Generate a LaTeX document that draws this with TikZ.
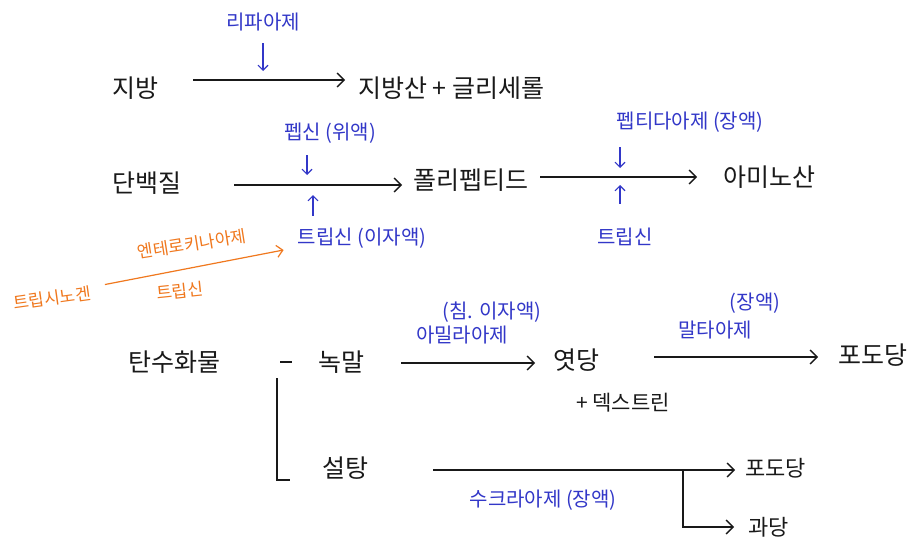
\documentclass[tikz,border=0pt]{standalone}
\usepackage{fontspec}
\setmainfont{Noto Sans CJK KR}
\usetikzlibrary{arrows.meta,calc}
\definecolor{ink}{RGB}{25,25,25}
\definecolor{pen}{RGB}{50,55,200}
\definecolor{org}{RGB}{240,120,30}
\begin{document}
\begin{tikzpicture}[x=1pt,y=-1pt,
  blk/.style={font=\fontsize{25}{28}\selectfont,text=ink,inner sep=0pt,anchor=west},
  sblk/.style={font=\fontsize{21}{24}\selectfont,text=ink,inner sep=0pt},
  bl/.style={font=\fontsize{20}{24}\selectfont,text=pen,inner sep=0pt},
  orn/.style={font=\fontsize{17}{20}\selectfont,text=org,inner sep=0pt},
  arr/.style={draw=ink,line width=1.3pt,-{Straight Barb[length=7pt,width=14pt]}},
  sarr/.style={draw=pen,line width=1.1pt,-{Straight Barb[length=5pt,width=10pt]}},
  oarr/.style={draw=org,line width=1.2pt,-{Straight Barb[length=6pt,width=12pt]}},
  line/.style={draw=ink,line width=1.3pt}]
\useasboundingbox (0,0) rectangle (914,549);
\fill[white] (0,0) rectangle (914,549);

% ---- fat ----
\node[blk] (fat) at (112,88) {지방};
\node[blk] (fa) at (358,88) {지방산 + 글리세롤};
\node[bl] (lip) at (263,22) {리파아제};
\coordinate (m1) at (263,80);
\draw[arr] ($(fat.east)+(35,-8)$) -- ($(fa.west)+(-13,-8)$);
\draw[sarr,shorten <=12pt,shorten >=9pt] (lip.south -| m1) -- (m1);

% ---- protein ----
\node[blk] (prot) at (112,183) {단백질};
\node[blk] (poly) at (413,180) {폴리펩티드};
\node[blk] (amino) at (723,177) {아미노산};
\node[bl] (pep) at (330,133) {펩신 (위액)};
\node[bl] (tr1) at (362,238) {트립신 (이자액)};
\node[bl] (pept) at (690,122) {펩티다아제 (장액)};
\node[bl] (tr2) at (625,237) {트립신};
\coordinate (m2a) at (307,185);
\coordinate (m2b) at (313,185);
\coordinate (m3) at (620,177);
\draw[arr] ($(prot.east)+(53,2)$) -- ($(poly.west)+(-11,5)$);
\draw[arr] ($(poly.east)+(12,-3)$) -- ($(amino.west)+(-26,0)$);
\draw[sarr,shorten <=12pt,shorten >=10pt] (pep.south -| m2a) -- (m2a);
\draw[sarr,shorten <=12pt,shorten >=10pt] (tr1.north -| m2b) -- (m2b);
\draw[sarr,shorten <=15pt,shorten >=9pt] (pept.south -| m3) -- (m3);
\draw[sarr,shorten <=24pt,shorten >=8pt] (tr2.north -| m3) -- (m3);

% ---- trypsinogen ----
\node[orn,rotate=8] (tryg) at (52,298) {트립시노겐};
\node[orn,rotate=9] (ent) at (192,244) {엔테로키나아제};
\node[orn,rotate=6] (tro) at (180,291) {트립신};
\draw[oarr] ($(tryg.east)+(14,-8)$) -- ($(tr1.west)+(-14,12)$);

% ---- carbohydrate ----
\node[blk] (carb) at (128,362) {탄수화물};
\node[blk] (nok) at (318,362) {녹말};
\node[blk] (yeot) at (553,360) {엿당};
\node[sblk] (dex) at (623,403) {+ 덱스트린};
\node[blk] (podo1) at (838,355) {포도당};
\node[bl] (chim) at (492,312) {(침. 이자액)};
\node[bl] (ami) at (462,335) {아밀라아제};
\node[bl] (jang) at (755,303) {(장액)};
\node[bl] (malt) at (715,330) {말타아제};
\draw[line] (280,362) -- (292,362);
\draw[line] (277,378) -- (277,480) -- (290,480);
\draw[arr] ($(nok.east)+(37,1)$) -- ($(yeot.west)+(-18,3)$);
\draw[arr] ($(yeot.east)+(55,-3)$) -- ($(podo1.west)+(-20,2)$);

\node[blk] (sug) at (322,468) {설탕};
\node[blk,font=\fontsize{22}{26}\selectfont] (podo2) at (745,468) {포도당};
\node[blk,font=\fontsize{22}{26}\selectfont] (gwa) at (748,527) {과당};
\node[bl] (suc) at (543,500) {수크라아제 (장액)};
\coordinate (br) at (683,470);
\draw[arr] ($(sug.east)+(65,2)$) -- ($(podo2.west)+(-10,2)$);
\draw[arr,shorten >=14pt] (br) |- (gwa.west);
\end{tikzpicture}
\end{document}
